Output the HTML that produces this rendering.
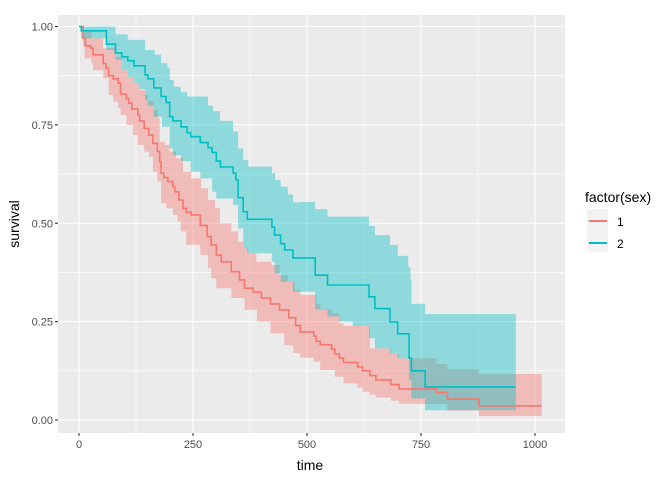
<!DOCTYPE html>
<html><head><meta charset="utf-8"><style>
body{margin:0;background:#fff;font-family:"Liberation Sans",Arial,sans-serif}
svg text{font-family:"Liberation Sans",Arial,sans-serif}
</style></head><body>
<svg id="chart" width="672" height="480" xmlns="http://www.w3.org/2000/svg">
<rect x="58" y="15" width="507" height="418" fill="#EBEBEB"/>
<g id="grid"></g>
<g id="ribbons"></g>
<g id="lines"></g>
<g id="axes"></g>
<text x="310" y="470" font-size="14" text-anchor="middle" fill="#000">time</text>
<text transform="translate(19,224) rotate(-90)" font-size="14" text-anchor="middle" fill="#000">survival</text>
<g>
<text x="585" y="202" font-size="14" fill="#000">factor(sex)</text>
<rect x="587" y="209" width="21" height="43" fill="#F2F2F2"/>
<g>
<line x1="589" y1="221" x2="607" y2="221" stroke="#F8766D" stroke-width="2"/>
<text x="617" y="226" font-size="12" fill="#000">1</text></g>
<g>
<line x1="589" y1="243" x2="607" y2="243" stroke="#00BFC4" stroke-width="2"/>
<text x="617" y="248" font-size="12" fill="#000">2</text></g>
</g>
</svg>
<script>
const xTicks=[0,250,500,750,1000];
const xMinor=[125,375,625,875];
const yTicks=[0,0.25,0.5,0.75,1];
const yTickLabels=["0.00","0.25","0.50","0.75","1.00"];
const yMinor=[0.125,0.375,0.625,0.875];

const t1=[0,9,14,26,31,53,59,65,75,86,91,104,109,116,129,133,143,153,162,172,177,180,186,195,206,210,219,228,235,246,266,281,290,301,312,334,352,363,382,400,420,440,460,475,485,515,520,529,554,561,571,580,611,622,638,651,684,702,784,808,877,1015];
const s1=[1,0.97,0.951,0.945,0.928,0.906,0.894,0.875,0.867,0.856,0.828,0.817,0.805,0.79,0.775,0.76,0.741,0.724,0.703,0.682,0.656,0.627,0.616,0.606,0.593,0.58,0.559,0.538,0.528,0.521,0.494,0.466,0.445,0.419,0.402,0.377,0.356,0.335,0.325,0.31,0.295,0.28,0.26,0.24,0.224,0.213,0.2,0.191,0.18,0.168,0.157,0.146,0.135,0.125,0.113,0.102,0.09,0.079,0.07,0.053,0.036,0.036];
const up1T=[0,11,27,53,80,94,107,121,131,145,151,164,173,177,188,199,213,228,246,268,283,298,309,334,349,360,371,389,422,440,458,473,485,520,529,554,571,580,638,684,702,784,808,877,1015];
const up1S=[1,0.987,0.97,0.945,0.923,0.889,0.872,0.856,0.839,0.826,0.811,0.788,0.767,0.707,0.699,0.682,0.665,0.631,0.614,0.589,0.559,0.538,0.5,0.479,0.453,0.436,0.424,0.402,0.394,0.368,0.351,0.33,0.318,0.295,0.282,0.271,0.246,0.239,0.182,0.169,0.157,0.142,0.129,0.117,0.117];
const lo1T=[0,9,12,27,31,53,65,75,86,91,104,118,129,143,153,162,172,180,191,206,216,223,235,266,283,290,301,334,363,390,420,450,470,485,515,529,561,580,611,622,638,651,684,702,808,877,1015];
const lo1S=[1,0.95,0.919,0.906,0.889,0.868,0.826,0.809,0.792,0.775,0.75,0.724,0.699,0.682,0.669,0.631,0.606,0.551,0.538,0.521,0.504,0.479,0.445,0.419,0.386,0.36,0.335,0.31,0.28,0.25,0.22,0.19,0.17,0.158,0.148,0.127,0.11,0.093,0.082,0.072,0.064,0.057,0.049,0.041,0.024,0.01,0.01];

const t2=[0,5,60,80,94,107,121,145,151,164,180,191,199,206,224,237,245,266,283,292,301,310,338,344,349,360,369,423,429,442,451,469,518,545,636,649,682,699,724,729,759,958];
const s2=[1,0.989,0.955,0.933,0.923,0.913,0.9,0.877,0.867,0.844,0.822,0.807,0.771,0.76,0.745,0.73,0.72,0.705,0.692,0.68,0.658,0.643,0.627,0.61,0.565,0.529,0.51,0.49,0.47,0.448,0.432,0.412,0.368,0.343,0.313,0.283,0.249,0.219,0.157,0.125,0.084,0.084];
const up2T=[0,80,107,145,166,180,194,199,208,223,237,283,294,309,338,349,360,371,423,430,442,458,469,485,518,545,636,649,682,699,722,727,729,759,958];
const up2S=[1,0.98,0.966,0.94,0.928,0.907,0.895,0.864,0.847,0.833,0.822,0.799,0.785,0.76,0.733,0.69,0.661,0.644,0.627,0.61,0.593,0.573,0.553,0.554,0.536,0.517,0.493,0.47,0.445,0.417,0.388,0.357,0.295,0.269,0.269];
const lo2T=[0,5,60,80,94,107,121,131,145,151,164,182,199,206,224,245,266,292,301,338,349,360,369,423,429,442,469,518,545,570,600,636,649,682,699,724,729,759,958];
const lo2S=[1,0.97,0.94,0.915,0.889,0.872,0.856,0.841,0.813,0.799,0.771,0.745,0.69,0.673,0.658,0.631,0.614,0.58,0.563,0.546,0.487,0.436,0.424,0.402,0.373,0.351,0.326,0.281,0.263,0.25,0.239,0.208,0.182,0.169,0.157,0.102,0.055,0.025,0.025];

const NS='http://www.w3.org/2000/svg';
const X=t=>79+t*0.456;
const Y=s=>420-s*393.5;
function mk(tag,attrs,parent){const e=document.createElementNS(NS,tag);for(const k in attrs)e.setAttribute(k,attrs[k]);parent.appendChild(e);return e;}
const grid=document.getElementById('grid'),rib=document.getElementById('ribbons'),lin=document.getElementById('lines'),axes=document.getElementById('axes');
xMinor.forEach(v=>{const l=mk('line',{x1:X(v),x2:X(v),y1:15,y2:433,stroke:'#fff','stroke-width':0.55},grid);

});
yMinor.forEach(v=>{const l=mk('line',{x1:58,x2:565,y1:Y(v),y2:Y(v),stroke:'#fff','stroke-width':0.55},grid);

});
xTicks.forEach(v=>{const l=mk('line',{x1:X(v),x2:X(v),y1:15,y2:433,stroke:'#fff','stroke-width':1.1},grid);


const tk=mk('line',{x1:X(v),x2:X(v),y1:433,y2:436,stroke:'#333','stroke-width':1.1},axes);


const tx=mk('text',{x:X(v),y:448,'font-size':11,'text-anchor':'middle',fill:'#4D4D4D'},axes);tx.textContent=v;

});
yTicks.forEach((v,i)=>{const l=mk('line',{x1:58,x2:565,y1:Y(v),y2:Y(v),stroke:'#fff','stroke-width':1.1},grid);


const tk=mk('line',{x1:55,x2:58,y1:Y(v),y2:Y(v),stroke:'#333','stroke-width':1.1},axes);


const tx=mk('text',{x:53,y:Y(v)+4,'font-size':11,'text-anchor':'end',fill:'#4D4D4D'},axes);tx.textContent=yTickLabels[i];

});
function stepPts(T,S){const p=[];for(let i=0;i<T.length;i++){if(i>0)p.push([X(T[i]),Y(S[i-1])]);p.push([X(T[i]),Y(S[i])]);}return p;}
function ribbon(uT,uS,lT,lS,col,name){const u=stepPts(uT,uS),l=stepPts(lT,lS).reverse();
const pts=u.concat(l).map(p=>p[0].toFixed(1)+','+p[1].toFixed(1)).join(' ');
const e=mk('polygon',{points:pts,fill:col,'fill-opacity':0.4,stroke:'none'},rib);

}
function line(T,S,col,name){const pts=stepPts(T,S).map(p=>p[0].toFixed(1)+','+p[1].toFixed(1)).join(' ');
const e=mk('polyline',{points:pts,fill:'none',stroke:col,'stroke-width':1.6},lin);

}
ribbon(up1T,up1S,lo1T,lo1S,'#F8766D','ci-ribbon-sex-1');
ribbon(up2T,up2S,lo2T,lo2S,'#00BFC4','ci-ribbon-sex-2');
line(t1,s1,'#F8766D','survival-line-sex-1');
line(t2,s2,'#00BFC4','survival-line-sex-2');
</script>
</body></html>
